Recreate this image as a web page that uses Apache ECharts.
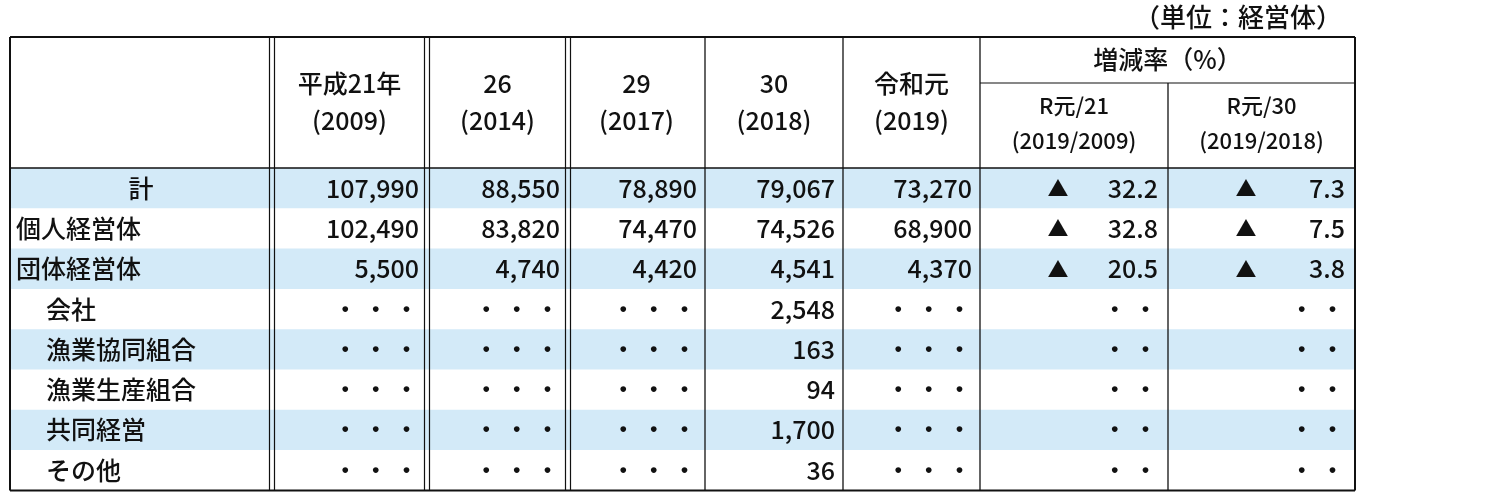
<!DOCTYPE html>
<html>
<head>
    <meta charset="utf-8">
    <title>経営体数</title>
    <script src="https://cdn.jsdelivr.net/npm/echarts@6/dist/echarts.min.js"></script>
    <style>html,body{margin:0;padding:0;background:#fff}#main{width:1500px;height:499px}</style>
</head>
<body>
<div id="main"></div>
<script>
    // 行ラベル・値
    var rowLabels = ['計', '個人経営体', '団体経営体', '会社', '漁業協同組合', '漁業生産組合', '共同経営', 'その他'];
    var indent = [false, false, false, true, true, true, true, true];
    var y2009 = ['107,990', '102,490', '5,500', '・ ・ ・', '・ ・ ・', '・ ・ ・', '・ ・ ・', '・ ・ ・'];
    var y2014 = ['88,550', '83,820', '4,740', '・ ・ ・', '・ ・ ・', '・ ・ ・', '・ ・ ・', '・ ・ ・'];
    var y2017 = ['78,890', '74,470', '4,420', '・ ・ ・', '・ ・ ・', '・ ・ ・', '・ ・ ・', '・ ・ ・'];
    var y2018 = ['79,067', '74,526', '4,541', '2,548', '163', '94', '1,700', '36'];
    var y2019 = ['73,270', '68,900', '4,370', '・ ・ ・', '・ ・ ・', '・ ・ ・', '・ ・ ・', '・ ・ ・'];
    var rate1 = ['32.2', '32.8', '20.5', '・ ・', '・ ・', '・ ・', '・ ・', '・ ・'];
    var rate2 = ['7.3', '7.5', '3.8', '・ ・', '・ ・', '・ ・', '・ ・', '・ ・'];
    var shaded = [true, false, true, false, true, false, true, false];
    var headTop = ['平成21年', '26', '29', '30', '令和元'];
    var headBottom = ['(2009)', '(2014)', '(2017)', '(2018)', '(2019)'];
    var rateHead = '増減率（%）';
    var rateSubTop = ['R元/21', 'R元/30'];
    var rateSubBottom = ['(2019/2009)', '(2019/2018)'];
    var unitText = '（単位：経営体）';

    // 表の枠（座標は軸の値）
    var colEdges = [10, 272, 427, 568, 705, 843, 980, 1168, 1355];
    var doubleLines = [272, 427, 568];
    var tableTop = 37, headBottomY = 168, rowH = 40.3, subHeadY = 83;

    var FONT = '"Noto Sans CJK JP", sans-serif';
    var chart = echarts.init(document.getElementById('main'));

    function txt(api, x, y, s, align, size) {
        var p = api.coord([x, y]);
        return {type: 'text', style: {x: p[0], y: p[1], text: s, fill: '#111', font: '500 ' + (size || 25) + 'px ' + FONT,
            align: align || 'center', verticalAlign: 'middle'}};
    }
    function line(api, x1, y1, x2, y2, w) {
        var a = api.coord([x1, y1]), b = api.coord([x2, y2]);
        return {type: 'line', shape: {x1: a[0], y1: a[1], x2: b[0], y2: b[1]}, style: {stroke: '#111', lineWidth: w || 1.5}};
    }

    function renderRow(params, api) {
        var i = api.value(0);
        var top = headBottomY + i * rowH, mid = top + rowH / 2;
        var kids = [];
        if (shaded[i]) {
            var a = api.coord([colEdges[0], top]), b = api.coord([colEdges[8], top + rowH]);
            kids.push({type: 'rect', shape: {x: a[0], y: a[1], width: b[0] - a[0], height: b[1] - a[1]}, style: {fill: '#d3eaf8'}});
        }
        if (i === 0) kids.push(txt(api, 141, mid, rowLabels[i]));
        else kids.push(txt(api, indent[i] ? 46 : 16, mid, rowLabels[i], 'left'));
        var vals = [y2009, y2014, y2017, y2018, y2019];
        for (var c = 0; c < 5; c++) kids.push(txt(api, colEdges[c + 2] - 8, mid, vals[c][i], 'right'));
        [rate1, rate2].forEach(function (r, k) {
            var right = colEdges[7 + k] - 10;
            if (i < 3) kids.push(txt(api, colEdges[6 + k] + 78, mid, '▲', 'center', 21));
            kids.push(txt(api, right, mid, r[i], 'right'));
        });
        return {type: 'group', children: kids};
    }

    function renderFrame(params, api) {
        var kids = [];
        var bottom = headBottomY + rowH * rowLabels.length;
        kids.push(txt(api, 1342, 17, unitText, 'right', 26));
        // headers
        for (var c = 0; c < 5; c++) {
            var cx = (colEdges[c + 1] + colEdges[c + 2]) / 2;
            kids.push(txt(api, cx, 83, headTop[c]));
            kids.push(txt(api, cx, 120, headBottom[c]));
        }
        kids.push(txt(api, (colEdges[6] + colEdges[8]) / 2, 59, rateHead));
        for (var k = 0; k < 2; k++) {
            var rx = (colEdges[6 + k] + colEdges[7 + k]) / 2;
            kids.push(txt(api, rx, 106, rateSubTop[k], 'center', 22));
            kids.push(txt(api, rx, 141, rateSubBottom[k], 'center', 22));
        }
        // lines
        kids.push(line(api, colEdges[0], tableTop, colEdges[8], tableTop, 2));
        kids.push(line(api, colEdges[0], headBottomY, colEdges[8], headBottomY, 1.5));
        kids.push(line(api, colEdges[0], bottom, colEdges[8], bottom, 2));
        kids.push(line(api, colEdges[6], subHeadY, colEdges[8], subHeadY, 1.2));
        colEdges.forEach(function (x, j) {
            var y0 = (j === 7) ? subHeadY : tableTop;
            var w = (j === 0 || j === 8) ? 2 : 1.3;
            if (doubleLines.indexOf(x) >= 0) {
                kids.push(line(api, x - 2.5, y0, x - 2.5, bottom, 1.2));
                kids.push(line(api, x + 2.5, y0, x + 2.5, bottom, 1.2));
            } else kids.push(line(api, x, y0, x, bottom, w));
        });
        return {type: 'group', children: kids};
    }

    var option = {
        animation: false,
        grid: {left: 0, right: 0, top: 0, bottom: 0},
        xAxis: {type: 'value', min: 0, max: 1500, show: false},
        yAxis: {type: 'value', min: 0, max: 499, inverse: true, show: false},
        series: [
            {type: 'custom', renderItem: renderRow, data: rowLabels.map(function (d, i) { return [i]; })},
            {type: 'custom', renderItem: renderFrame, data: [[0]], z: 3}
        ]
    };
    chart.setOption(option);
</script>
</body>
</html>
